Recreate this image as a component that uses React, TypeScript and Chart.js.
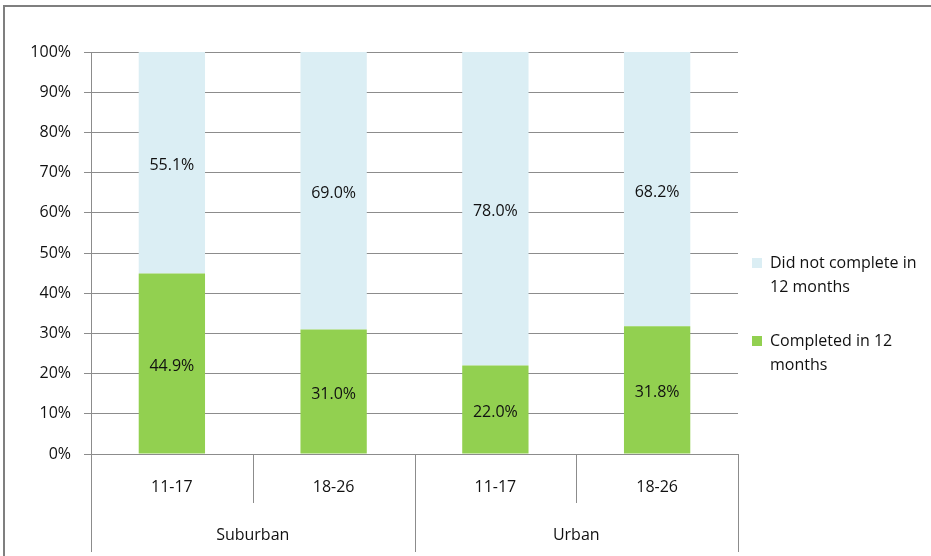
import React, { useEffect, useRef } from 'react';
import { Chart, registerables } from 'chart.js';

Chart.register(...registerables);

const categories = ['11-17', '18-26', '11-17', '18-26'];
const groups = ['Suburban', 'Urban'];
const completed = [44.9, 31.0, 22.0, 31.8];
const notCompleted = [55.1, 69.0, 78.0, 68.2];
const seriesLabels = ['Completed in 12 months', 'Did not complete in 12 months'];
const seriesColors = ['#92D050', '#DBEEF4'];
const yTicks = [0, 10, 20, 30, 40, 50, 60, 70, 80, 90, 100];

const FONT = '"Open Sans", sans-serif';
const FSIZE = 16;
const TEXT = '#111111';
const LINE = '#8c8c8c';

function wrap(ctx: CanvasRenderingContext2D, text: string, maxW: number): string[] {
  const words = text.split(' ');
  const lines: string[] = [];
  let cur = '';
  for (const w of words) {
    const t = cur ? cur + ' ' + w : w;
    if (ctx.measureText(t).width > maxW && cur) {
      lines.push(cur);
      cur = w;
    } else cur = t;
  }
  if (cur) lines.push(cur);
  return lines;
}

const decorPlugin = {
  id: 'decor',
  afterDraw(chart: any) {
    const ctx = chart.ctx as CanvasRenderingContext2D;
    const area = chart.chartArea;
    ctx.save();
    // frame
    ctx.strokeStyle = '#7f7f7f';
    ctx.lineWidth = 2;
    ctx.beginPath();
    ctx.moveTo(4, 560);
    ctx.lineTo(4, 6);
    ctx.lineTo(940, 6);
    ctx.stroke();

    // category axis lines
    ctx.strokeStyle = LINE;
    ctx.lineWidth = 1;
    const n = categories.length;
    const step = (area.right - area.left) / n;
    const fullBottom = 552;
    const shortBottom = 503;
    for (let i = 0; i <= n; i++) {
      const x = Math.round(area.left + step * i) + 0.5;
      const bottom = i % 2 === 0 ? fullBottom : shortBottom;
      ctx.beginPath();
      ctx.moveTo(x, area.bottom);
      ctx.lineTo(x, bottom);
      ctx.stroke();
    }
    // group labels
    ctx.fillStyle = TEXT;
    ctx.font = `${FSIZE}px ${FONT}`;
    ctx.textAlign = 'center';
    ctx.textBaseline = 'middle';
    groups.forEach((g, gi) => {
      const cx = area.left + step * (gi * 2 + 1);
      ctx.fillText(g, cx, 535);
    });

    // data labels
    chart.data.datasets.forEach((ds: any, di: number) => {
      const meta = chart.getDatasetMeta(di);
      meta.data.forEach((el: any, i: number) => {
        const v = ds.data[i];
        const y = (el.y + el.base) / 2 + 3;
        ctx.fillText(v.toFixed(1) + '%', el.x, y);
      });
    });

    // legend (reversed)
    ctx.textAlign = 'left';
    const order = chart.data.datasets.map((_: any, i: number) => i).reverse();
    const itemTops = [263, 341];
    order.forEach((di: number, k: number) => {
      const ds = chart.data.datasets[di];
      const y0 = itemTops[k];
      ctx.fillStyle = ds.backgroundColor;
      ctx.fillRect(752, y0 - 5, 10, 10);
      ctx.fillStyle = TEXT;
      const lines = wrap(ctx, ds.label, 160);
      lines.forEach((ln, li) => ctx.fillText(ln, 770, y0 + li * 24));
    });
    ctx.restore();
  },
};

export default function App() {
  const ref = useRef<HTMLCanvasElement>(null);
  useEffect(() => {
    if (!ref.current) return;
    const chart = new Chart(ref.current, {
      type: 'bar',
      data: {
        labels: categories,
        datasets: [
          { label: seriesLabels[0], data: completed, backgroundColor: seriesColors[0], barPercentage: 0.41, categoryPercentage: 1 },
          { label: seriesLabels[1], data: notCompleted, backgroundColor: seriesColors[1], barPercentage: 0.41, categoryPercentage: 1 },
        ],
      },
      options: {
        animation: false,
        responsive: false,
        maintainAspectRatio: false,
        devicePixelRatio: 1,
        layout: { padding: { left: 0, top: 52, right: 193, bottom: 0 } },
        plugins: { legend: { display: false }, tooltip: { enabled: false } },
        scales: {
          x: {
            stacked: true,
            grid: { display: false, drawTicks: false },
            border: { display: false },
            ticks: { color: TEXT, font: { family: FONT, size: FSIZE }, padding: 24, maxRotation: 0 },
            afterFit: (s: any) => { s.height = 102; },
          },
          y: {
            stacked: true,
            min: 0,
            max: 100,
            afterBuildTicks: (s: any) => { s.ticks = yTicks.map((v) => ({ value: v })); },
            grid: { color: LINE, tickLength: 7, drawTicks: true },
            border: { display: true, color: LINE },
            ticks: { color: TEXT, font: { family: FONT, size: FSIZE }, padding: 13, callback: (v: any) => v + '%' },
            afterFit: (s: any) => { s.width = 91; },
          },
        },
      },
      plugins: [decorPlugin],
    });
    return () => chart.destroy();
  }, []);
  return (
    <div style={{ position: 'fixed', left: 0, top: 0, width: 931, height: 556, background: '#fff' }}>
      <canvas ref={ref} width={931} height={556} style={{ width: 931, height: 556, display: 'block' }} />
    </div>
  );
}
